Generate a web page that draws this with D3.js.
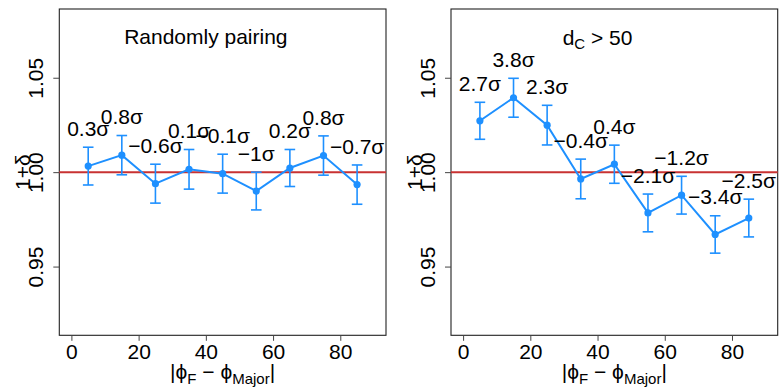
<!DOCTYPE html>
<html><head><meta charset="utf-8">
<script src="https://cdn.jsdelivr.net/npm/d3@7"></script>
<style>
body{margin:0;background:#fff}
text{font-family:"Liberation Sans",Arial,Helvetica,sans-serif}
</style></head>
<body><svg id="c" width="779" height="390"></svg>
<script>
const xs = [5,15,25,35,45,55,65,75,85];
const xTicks = [0,20,40,60,80];
const yTicks = [0.95,1.00,1.05];
const yTickLabels = ["0.95","1.00","1.05"];

const leftTitle = "Randomly pairing";
const leftVal = [1.0032,1.0090,0.9939,1.0015,0.9992,0.9900,1.0022,1.0088,0.9934];
const leftErr = [0.0100,0.0104,0.0103,0.0105,0.0103,0.0100,0.0098,0.0104,0.0104];
const leftSig = ["0.3σ","0.8σ","−0.6σ","0.1σ","−0.1σ","−1σ","0.2σ","0.8σ","−0.7σ"];

const rightVal = [1.0272,1.0394,1.0249,0.9964,1.0042,0.9784,0.9878,0.9670,0.9757];
const rightErr = [0.0098,0.0103,0.0105,0.0105,0.0101,0.0100,0.0100,0.0099,0.0100];
const rightSig = ["2.7σ","3.8σ","2.3σ","−0.4σ","0.4σ","−2.1σ","−1.2σ","−3.4σ","−2.5σ"];

const svg = d3.select("#c");
const blue = "#1E90FF", red = "#C83232";
const FS = 21;

function panel(x0, x1, vals, errs, sigs, titleFn){
  const top = 9, bot = 335.3;
  const x = d3.scaleLinear().domain([-3.6,93.6]).range([x0,x1]);
  const y = d3.scaleLinear().domain([0.9136,1.0864]).range([bot,top]);
  const g = svg.append("g");
  // box
  g.append("rect").attr("x",x0).attr("y",top).attr("width",x1-x0).attr("height",bot-top)
    .attr("fill","none").attr("stroke","#222").attr("stroke-width",1.1);
  // y axis
  const ya = g.append("g").attr("transform",`translate(${x0},0)`)
    .call(d3.axisLeft(y).tickValues(yTicks).tickSize(6).tickFormat((d,i)=>yTickLabels[i]));
  ya.select(".domain").remove();
  ya.selectAll("line").attr("stroke","#444");
  ya.selectAll("text").attr("transform",`translate(-16.5,0) rotate(-90)`)
    .attr("x",0).attr("y",0).attr("dy",0).attr("text-anchor","middle")
    .style("font-size",FS+"px").attr("fill","#000");
  // x axis
  const xa = g.append("g").attr("transform",`translate(0,${bot})`)
    .call(d3.axisBottom(x).tickValues(xTicks).tickSize(5.5));
  xa.select(".domain").remove();
  xa.selectAll("line").attr("stroke","#444");
  xa.selectAll("text").attr("y",0).attr("dy",0).attr("transform","translate(0,24)")
    .style("font-size",FS+"px").attr("fill","#000");
  // y label
  g.append("text").attr("transform",`translate(${x0-29.5},${(top+bot)/2}) rotate(-90)`)
    .attr("text-anchor","middle").style("font-size",FS+"px").text("1+δ");
  // x label
  const xl = g.append("text").attr("x",(x0+x1)/2).attr("y",379).attr("text-anchor","middle")
    .style("font-size",FS+"px");
  xl.append("tspan").text("|ϕ");
  xl.append("tspan").attr("dy",5).style("font-size","15px").text("F");
  xl.append("tspan").attr("dy",-5).text(" − ϕ");
  xl.append("tspan").attr("dy",5).style("font-size","15px").text("Major");
  xl.append("tspan").attr("dy",-5).text("|");
  // reference line
  g.append("line").attr("x1",x0).attr("x2",x1).attr("y1",y(1)).attr("y2",y(1))
    .attr("stroke",red).attr("stroke-width",2);
  // error bars
  const d = xs.map((v,i)=>({x:v,y:vals[i],e:errs[i],s:sigs[i]}));
  const eb = g.append("g").attr("stroke",blue).attr("stroke-width",1.6);
  d.forEach(p=>{
    eb.append("line").attr("x1",x(p.x)).attr("x2",x(p.x)).attr("y1",y(p.y-p.e)).attr("y2",y(p.y+p.e));
    eb.append("line").attr("x1",x(p.x)-5.3).attr("x2",x(p.x)+5.3).attr("y1",y(p.y-p.e)).attr("y2",y(p.y-p.e));
    eb.append("line").attr("x1",x(p.x)-5.3).attr("x2",x(p.x)+5.3).attr("y1",y(p.y+p.e)).attr("y2",y(p.y+p.e));
  });
  g.append("path").datum(d).attr("fill","none").attr("stroke",blue).attr("stroke-width",2)
    .attr("d",d3.line().x(p=>x(p.x)).y(p=>y(p.y)));
  g.selectAll(".pt").data(d).enter().append("circle").attr("cx",p=>x(p.x)).attr("cy",p=>y(p.y))
    .attr("r",3.6).attr("fill",blue);
  // sigma labels
  g.selectAll(".sl").data(d).enter().append("text").attr("x",p=>x(p.x))
    .attr("y",p=>y(p.y+p.e+0.01)).attr("dy",7.5).attr("text-anchor","middle")
    .style("font-size",FS+"px").text(p=>p.s);
  titleFn(g, x, y);
}

panel(59.3, 386, leftVal, leftErr, leftSig, (g,x,y)=>{
  g.append("text").attr("x",x(40)).attr("y",44).attr("text-anchor","middle")
    .style("font-size",FS+"px").text(leftTitle);
});
panel(451, 777.7, rightVal, rightErr, rightSig, (g,x,y)=>{
  const t = g.append("text").attr("x",x(40)).attr("y",45).attr("text-anchor","middle")
    .style("font-size",FS+"px");
  t.append("tspan").text("d");
  t.append("tspan").attr("dy",4).style("font-size","15px").text("C");
  t.append("tspan").attr("dy",-4).text(" > 50");
});
</script></body></html>
